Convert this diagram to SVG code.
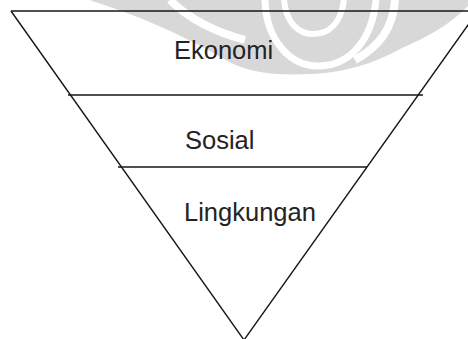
<svg xmlns="http://www.w3.org/2000/svg" width="468" height="339" viewBox="0 0 468 339">
  <style>
    .ln { stroke: #161616; stroke-width: 1.4; fill: none; }
    .lbl { font-family: "Liberation Sans", Arial, sans-serif; font-size: 25.5px; fill: #232323; }
    .wm { fill: #d8d8d8; }
    .wmw { fill: none; stroke: #ffffff; }
  </style>
  <rect width="468" height="339" fill="#ffffff"/>
  <g id="watermark">
    <path class="wm" d="M90,0 L468,0 L468,6 C450,25 425,38 402,48 C380,60 352,72 312,74 C272,76 246,72 226,60 C200,45 170,30 140,18 C115,8 100,4 90,0 Z"/>
    <path class="wmw" stroke-width="7" d="M265,0 C266,40 290,66 318,66 C350,66 372,40 376,0"/>
    <path class="wmw" stroke-width="6" d="M284,0 C286,22 298,34 313,34 C330,34 341,22 344,0"/>
    <path class="wmw" stroke-width="8" d="M395,0 C393,28 380,46 355,60"/>
    <path class="wmw" stroke-width="8" d="M170,0 C190,20 215,32 245,40"/>
  </g>
  <g id="connectors">
    <line class="ln" x1="11" y1="11" x2="468" y2="11"/>
    <line class="ln" x1="11" y1="11" x2="244" y2="340"/>
    <line class="ln" x1="478" y1="11" x2="244" y2="340"/>
    <line class="ln" x1="68" y1="95" x2="423" y2="95"/>
    <line class="ln" x1="118" y1="167" x2="367" y2="167"/>
  </g>
  <g id="ekonomi">
    <text class="lbl" x="174" y="59">Ekonomi</text>
  </g>
  <g id="sosial">
    <text class="lbl" x="185" y="149">Sosial</text>
  </g>
  <g id="lingkungan">
    <text class="lbl" x="184" y="221">Lingkungan</text>
  </g>
</svg>
